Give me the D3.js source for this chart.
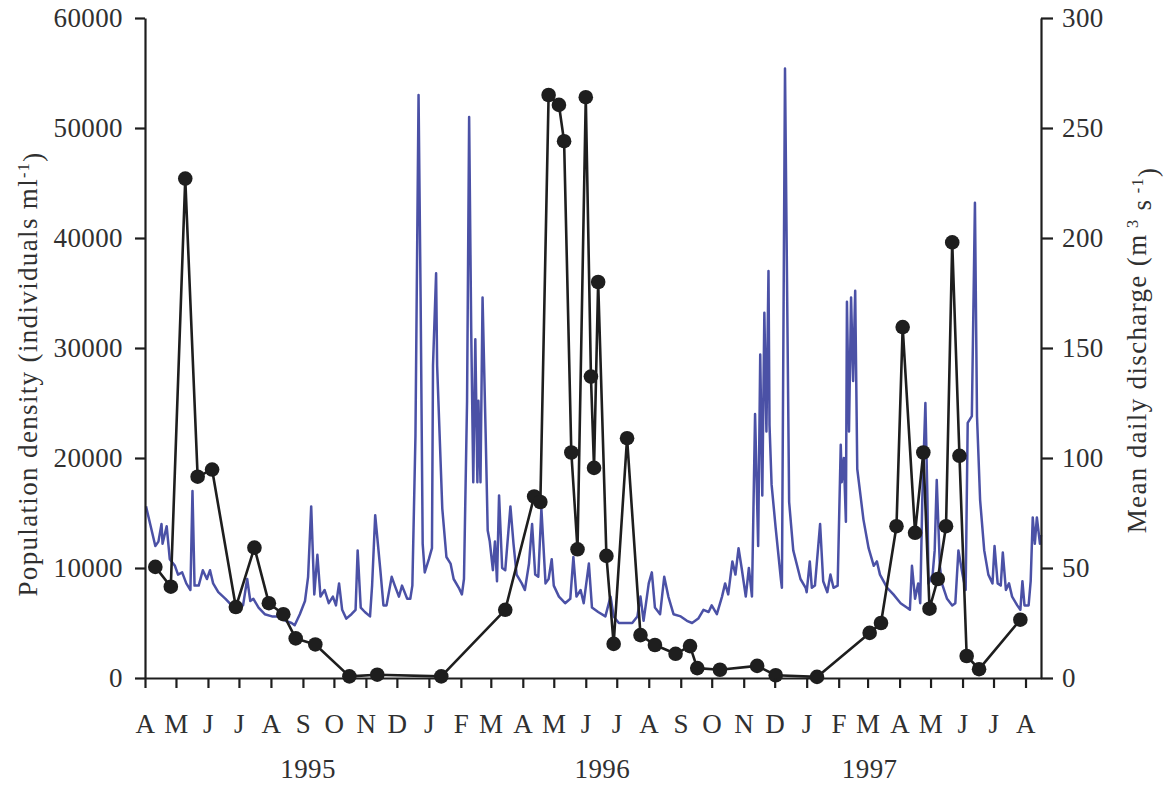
<!DOCTYPE html>
<html>
<head>
<meta charset="utf-8">
<script src="https://cdn.jsdelivr.net/npm/d3@7"></script>
<style>
  html, body { margin: 0; padding: 0; background: #fff; }
  svg { display: block; }
  text { font-family: "Liberation Serif", "DejaVu Serif", serif; fill: #303030; }
</style>
</head>
<body>
<svg id="chart" width="1165" height="788"></svg>
<script>
// Record runs from 1 April 1995; discharge vertices are given as day-of-record
const recordStart = "1995-04-01";
const recordEnd = "1997-08-16";

// Mean daily discharge (m3 s-1), day of record
const dischargeDay = [
  1, 5, 10, 13, 16, 17, 21, 24, 29, 32, 36, 40, 44, 46, 48, 52, 56, 60, 63, 66,
  71, 78, 84, 90, 95, 99, 102, 105, 110, 116, 123, 129, 136, 142, 145, 150, 155, 158, 161, 164,
  167, 170, 174, 178, 182, 185, 188, 191, 195, 200, 204, 206, 209, 213, 218, 220, 223, 228, 231, 234,
  239, 242, 246, 249, 254, 257, 259, 262, 265, 267, 269, 271, 275, 278, 279, 282, 283, 288, 292, 296,
  299, 304, 307, 309, 312, 314, 316, 318, 320, 322, 323, 325, 327, 330, 332, 334, 337, 339, 341, 343,
  346, 349, 354, 357, 360, 365, 368, 372, 375, 378, 381, 384, 388, 391, 394, 396, 401, 407, 412, 415,
  418, 422, 425, 430, 433, 439, 446, 451, 454, 459, 465, 472, 477, 480, 483, 488, 491, 494, 499, 503,
  507, 512, 519, 525, 530, 536, 541, 546, 549, 554, 559, 562, 565, 569, 572, 575, 578, 582, 585, 588,
  591, 594, 596, 598, 600, 602, 604, 605, 607, 611, 616, 617, 620, 624, 628, 635, 640, 641, 644, 646,
  649, 654, 657, 661, 664, 667, 671, 674, 675, 677, 679, 680, 682, 684, 686, 688, 690, 696, 701, 706,
  709, 712, 719, 725, 732, 738, 741, 743, 746, 749, 751, 753, 756, 758, 759, 763, 765, 767, 770, 772,
  777, 782, 785, 788, 792, 795, 797, 801, 804, 806, 809, 813, 817, 821, 823, 826, 829, 831, 834, 837,
  840, 845, 848, 850, 852, 856, 858, 860, 862, 864, 867, 868
];
const dischargeValue = [
  78, 70, 60, 62, 70, 61, 69, 54, 51, 47, 48, 43, 40, 85, 42, 42, 49, 45, 49, 43,
  39, 36, 33, 32, 33, 45, 35, 36, 32, 29, 28, 28, 26, 25, 24, 29, 35, 46, 78, 38,
  56, 37, 40, 34, 37, 33, 43, 31, 27, 29, 31, 58, 32, 30, 28, 42, 74, 49, 33, 33,
  46, 42, 37, 42, 36, 36, 42, 110, 265, 173, 61, 48, 54, 59, 142, 184, 142, 77, 55, 52,
  45, 41, 38, 45, 126, 255, 159, 89, 154, 89, 126, 89, 173, 111, 67, 62, 49, 62, 44, 83,
  50, 49, 78, 61, 47, 43, 40, 52, 70, 47, 46, 77, 43, 45, 54, 42, 37, 34, 36, 55,
  37, 40, 34, 52, 32, 30, 28, 37, 28, 25, 25, 25, 28, 37, 26, 43, 48, 32, 29, 46,
  37, 29, 28, 26, 25, 27, 31, 30, 33, 29, 37, 43, 38, 53, 47, 59, 50, 37, 50, 37,
  120, 60, 147, 83, 166, 112, 185, 115, 88, 68, 45, 41, 277, 80, 58, 45, 41, 39, 53, 41,
  42, 70, 44, 39, 47, 41, 42, 106, 89, 100, 71, 171, 112, 173, 135, 176, 95, 72, 59, 51,
  53, 47, 41, 38, 34, 32, 31, 51, 36, 43, 34, 81, 125, 81, 43, 47, 58, 90, 51, 43,
  36, 33, 34, 58, 47, 40, 116, 119, 216, 119, 81, 58, 47, 43, 60, 43, 42, 57, 40, 43,
  37, 33, 31, 44, 33, 33, 44, 73, 61, 73, 61, 65
];

// Population density (individuals ml-1) on each sampling date
const sampleDates = [
  "1995-04-11", "1995-04-26", "1995-05-10", "1995-05-22", "1995-06-05", "1995-06-28",
  "1995-07-16", "1995-07-30", "1995-08-13", "1995-08-25", "1995-09-13", "1995-10-16",
  "1995-11-12", "1996-01-13", "1996-03-15", "1996-04-12", "1996-04-18", "1996-04-26",
  "1996-05-06", "1996-05-11", "1996-05-18", "1996-05-24", "1996-06-01", "1996-06-06",
  "1996-06-09", "1996-06-13", "1996-06-21", "1996-06-28", "1996-07-11", "1996-07-24",
  "1996-08-07", "1996-08-27", "1996-09-10", "1996-09-17", "1996-10-09", "1996-11-14",
  "1996-12-02", "1997-01-11", "1997-03-03", "1997-03-14", "1997-03-29", "1997-04-04",
  "1997-04-16", "1997-04-24", "1997-04-30", "1997-05-08", "1997-05-16", "1997-05-22",
  "1997-05-29", "1997-06-05", "1997-06-17", "1997-07-27"
];
const densityValue = [
  10100, 8300, 45400, 18300, 18950, 6450,
  11850, 6800, 5800, 3600, 3050, 150,
  300, 150, 6200, 16500, 16000, 53000,
  52100, 48800, 20500, 11700, 52800, 27400,
  19100, 36000, 11100, 3100, 21800, 3900,
  3000, 2200, 2900, 900, 750, 1100,
  250, 100, 4100, 5000, 13800, 31900,
  13200, 20500, 6300, 9000, 13800, 39600,
  20200, 2000, 800, 5300
];

// Axis ticks and labels
const densityTicks = [0, 10000, 20000, 30000, 40000, 50000, 60000];
const dischargeTicks = [0, 50, 100, 150, 200, 250, 300];
const monthInitials = ["J", "F", "M", "A", "M", "J", "J", "A", "S", "O", "N", "D"];
const yearLabels = ["1995", "1996", "1997"];
const yearLabelDates = ["1995-09-06", "1996-06-17", "1997-03-03"];

const parse = d3.timeParse("%Y-%m-%d");
const start = parse(recordStart);

const plot = { left: 145, right: 1041, top: 18, bottom: 678 };
const fontSize = 27;
const textColor = "#303030";
const inkColor = "#1e1e1e";

const svg = d3.select("#chart");

const x = d3.scaleTime()
  .domain([start, parse(recordEnd)])
  .range([plot.left, plot.right]);
const yDensity = d3.scaleLinear().domain([0, 60000]).range([plot.bottom, plot.top]);
const yDischarge = d3.scaleLinear().domain([0, 300]).range([plot.bottom, plot.top]);

// Discharge trace
const discharge = dischargeDay.map((d, i) => ({ date: d3.timeDay.offset(start, d), value: dischargeValue[i] }));
svg.append("path")
  .datum(discharge)
  .attr("fill", "none")
  .attr("stroke", "#4b51a6")
  .attr("stroke-width", 2.5)
  .attr("stroke-linejoin", "round")
  .attr("d", d3.line().x(d => x(d.date)).y(d => yDischarge(d.value)));

// Population density series
const density = sampleDates.map((d, i) => ({ date: parse(d), value: densityValue[i] }));
svg.append("path")
  .datum(density)
  .attr("fill", "none")
  .attr("stroke", inkColor)
  .attr("stroke-width", 2.6)
  .attr("stroke-linejoin", "round")
  .attr("d", d3.line().x(d => x(d.date)).y(d => yDensity(d.value)));
svg.append("g")
  .selectAll("circle")
  .data(density)
  .join("circle")
  .attr("cx", d => x(d.date))
  .attr("cy", d => yDensity(d.value))
  .attr("r", 7.3)
  .attr("fill", inkColor);

function styleAxis(g) {
  g.selectAll(".domain").attr("stroke", inkColor).attr("stroke-width", 2.2);
  g.selectAll(".tick line").attr("stroke", inkColor).attr("stroke-width", 2.2);
  g.selectAll(".tick text")
    .attr("font-family", "'Liberation Serif', 'DejaVu Serif', serif")
    .attr("font-size", fontSize)
    .attr("letter-spacing", 0.4)
    .attr("fill", textColor);
}

// Left axis
svg.append("g")
  .attr("transform", `translate(${plot.left},0)`)
  .call(d3.axisLeft(yDensity).tickValues(densityTicks).tickFormat(d3.format("d"))
    .tickSize(10).tickSizeOuter(0).tickPadding(12))
  .call(styleAxis);

// Right axis
svg.append("g")
  .attr("transform", `translate(${plot.right},0)`)
  .call(d3.axisRight(yDischarge).tickValues(dischargeTicks).tickFormat(d3.format("d"))
    .tickSize(12).tickSizeOuter(0).tickPadding(9))
  .call(styleAxis);

// Bottom axis: one tick per month, labelled with its initial
svg.append("g")
  .attr("transform", `translate(0,${plot.bottom})`)
  .call(d3.axisBottom(x).ticks(d3.timeMonth.every(1))
    .tickFormat(d => monthInitials[d.getMonth()])
    .tickSize(10).tickSizeOuter(0).tickPadding(26))
  .call(styleAxis);

// Year labels under the month initials
svg.append("g")
  .selectAll("text")
  .data(yearLabels)
  .join("text")
  .attr("x", (d, i) => x(parse(yearLabelDates[i])))
  .attr("y", 778)
  .attr("text-anchor", "middle")
  .attr("font-size", fontSize)
  .attr("letter-spacing", 0.4)
  .text(d => d);

// Left axis title
const leftTitle = svg.append("text")
  .attr("transform", "translate(37,374) rotate(-90)")
  .attr("text-anchor", "middle")
  .attr("letter-spacing", 1.35)
  .attr("font-size", fontSize);
leftTitle.append("tspan").text("Population density (individuals ml");
leftTitle.append("tspan").attr("dy", "-0.5em").attr("font-size", fontSize * 0.6).text("-1");
leftTitle.append("tspan").attr("dy", "0.5em").text(")");

// Right axis title
const rightTitle = svg.append("text")
  .attr("transform", "translate(1146,350) rotate(-90)")
  .attr("text-anchor", "middle")
  .attr("letter-spacing", 1.35)
  .attr("font-size", fontSize);
rightTitle.append("tspan").text("Mean daily discharge (m");
rightTitle.append("tspan").attr("dy", "-0.5em").attr("font-size", fontSize * 0.6).text("\u00a03");
rightTitle.append("tspan").attr("dy", "0.5em").text(" s");
rightTitle.append("tspan").attr("dy", "-0.5em").attr("font-size", fontSize * 0.6).text("\u00a0-1");
rightTitle.append("tspan").attr("dy", "0.5em").text(")");
</script>
</body>
</html>
